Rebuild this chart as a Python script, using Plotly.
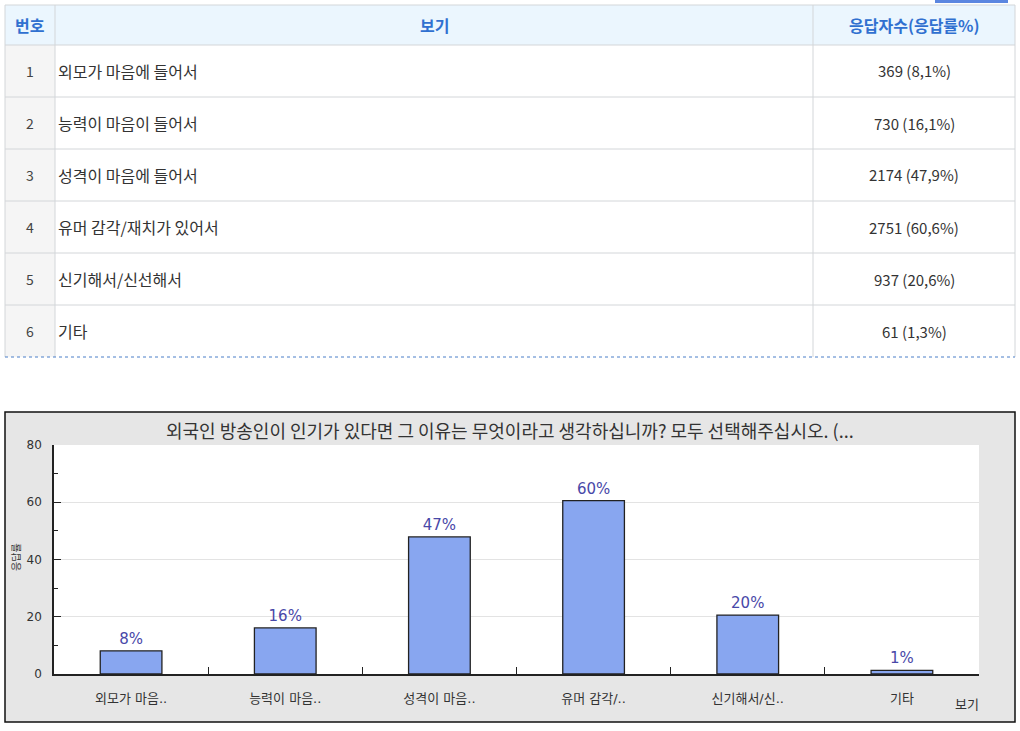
import plotly.graph_objects as go

# survey data
numbers = [1, 2, 3, 4, 5, 6]
options = ["외모가 마음에 들어서", "능력이 마음이 들어서", "성격이 마음에 들어서",
           "유머 감각/재치가 있어서", "신기해서/신선해서", "기타"]
counts = [369, 730, 2174, 2751, 937, 61]
rates = [8.1, 16.1, 47.9, 60.6, 20.6, 1.3]
short_labels = ["외모가 마음..", "능력이 마음..", "성격이 마음..",
                "유머 감각/..", "신기해서/신..", "기타"]
header = ["번호", "보기", "응답자수(응답률%)"]

title_text = "외국인 방송인이 인기가 있다면 그 이유는 무엇이라고 생각하십니까? 모두 선택해주십시오. (..."

W, H = 1020, 731
KR = "Noto Sans CJK KR"
CHART_FONT = "DejaVu Sans, Noto Sans CJK KR"

def px_x(v):
    return v / W

def px_y(v):
    return 1 - v / H

def label(text, x, y, size, color="#333333", xanchor="center", family=KR, angle=0):
    fig.add_annotation(text=text, xref="paper", yref="paper", x=px_x(x), y=px_y(y),
                       xanchor=xanchor, yanchor="middle", showarrow=False, textangle=angle,
                       font=dict(family=family, size=size, color=color))

count_text = ["{} ({}%)".format(c, str(r).replace(".", ",")) for c, r in zip(counts, rates)]
bar_text = ["{}%".format(int(r)) for r in rates]

fig = go.Figure()

fig.add_trace(go.Bar(
    x=short_labels, y=rates, text=bar_text, textposition="outside",
    textfont=dict(family=CHART_FONT, size=15, color="#4848a8"),
    marker=dict(color="#88a6f0", line=dict(color="#222222", width=1.3)),
    width=0.4, cliponaxis=False, showlegend=False,
))

fig.update_layout(
    width=W, height=H,
    margin=dict(l=0, r=0, t=0, b=0, autoexpand=False),
    paper_bgcolor="white", plot_bgcolor="white",
    font=dict(family=CHART_FONT, color="#333333"),
    xaxis=dict(domain=[px_x(54), px_x(979)], type="category", automargin=False,
               showline=True, linecolor="#222222", linewidth=1.5,
               ticks="inside", tickson="boundaries", ticklen=7,
               tickcolor="#222222", ticklabelstandoff=12,
               tickfont=dict(size=13, color="#333333"), showgrid=False),
    yaxis=dict(domain=[px_y(674), px_y(445)], range=[0, 80], dtick=20, automargin=False,
               showline=True, linecolor="#222222", linewidth=1.5,
               ticks="inside", ticklen=7, tickcolor="#222222",
               minor=dict(dtick=10, ticks="inside", ticklen=4, tickcolor="#222222", showgrid=False),
               gridcolor="#e3e3e3", zeroline=False, ticklabelstandoff=8,
               tickfont=dict(size=12, color="#333333")),
)

# ---- table above the chart ----
col_edges = [5, 55, 813, 1015]
top, head_h, row_h = 5, 40, 52
row_edges = [top, top + head_h] + [top + head_h + row_h * (i + 1) for i in range(len(options))]
bottom = row_edges[-1]
grid = "#d3d6d9"

fig.add_shape(type="rect", xref="paper", yref="paper",
              x0=px_x(col_edges[0]), x1=px_x(col_edges[-1]),
              y0=px_y(row_edges[1]), y1=px_y(top),
              fillcolor="#ebf6fe", line_width=0, layer="below")
fig.add_shape(type="rect", xref="paper", yref="paper",
              x0=px_x(col_edges[0]), x1=px_x(col_edges[1]),
              y0=px_y(bottom), y1=px_y(row_edges[1]),
              fillcolor="#f5f5f5", line_width=0, layer="below")
for yy in row_edges[:-1]:
    fig.add_shape(type="line", xref="paper", yref="paper",
                  x0=px_x(col_edges[0]), x1=px_x(col_edges[-1]), y0=px_y(yy), y1=px_y(yy),
                  line=dict(color=grid, width=1))
for xx in col_edges:
    fig.add_shape(type="line", xref="paper", yref="paper",
                  x0=px_x(xx), x1=px_x(xx), y0=px_y(bottom), y1=px_y(top),
                  line=dict(color=grid, width=1))
fig.add_shape(type="line", xref="paper", yref="paper",
              x0=px_x(col_edges[0]), x1=px_x(col_edges[-1]), y0=px_y(bottom), y1=px_y(bottom),
              line=dict(color="#4a7fc8", width=1, dash="dot"))

col_mid = [(a + b) / 2 for a, b in zip(col_edges[:-1], col_edges[1:])]
for j, h in enumerate(header):
    label("<b>" + h + "</b>", col_mid[j], top + head_h / 2, 16, color="#3070d0")
for i in range(len(options)):
    yc = row_edges[i + 1] + row_h / 2
    label(str(numbers[i]), col_mid[0], yc, 14, color="#444444")
    label(options[i], col_edges[1] + 1, yc, 16, xanchor="left")
    label(count_text[i], col_mid[2], yc, 15)

# blue button peeking in at the top
fig.add_shape(type="rect", xref="paper", yref="paper",
              x0=px_x(935), x1=px_x(1008), y0=px_y(3), y1=1,
              fillcolor="#5b86e0", line_width=0)

# ---- gray chart frame and white plot area ----
fig.add_shape(type="rect", xref="paper", yref="paper",
              x0=px_x(5), x1=px_x(1015), y0=px_y(722), y1=px_y(412),
              fillcolor="#e6e6e6", line=dict(color="#111111", width=1.5), layer="below")
fig.add_shape(type="rect", xref="x domain", yref="y domain",
              x0=0, x1=1, y0=0, y1=1, fillcolor="white", line_width=0, layer="below")

label(title_text, 510, 430, 18)
label("응답률", 15, 557, 10, angle=-90)
label("보기", 967, 703, 13)

fig.write_html("out.html", config={"displayModeBar": False},
               post_script="document.body.style.margin='0';document.body.style.overflow='hidden';")
